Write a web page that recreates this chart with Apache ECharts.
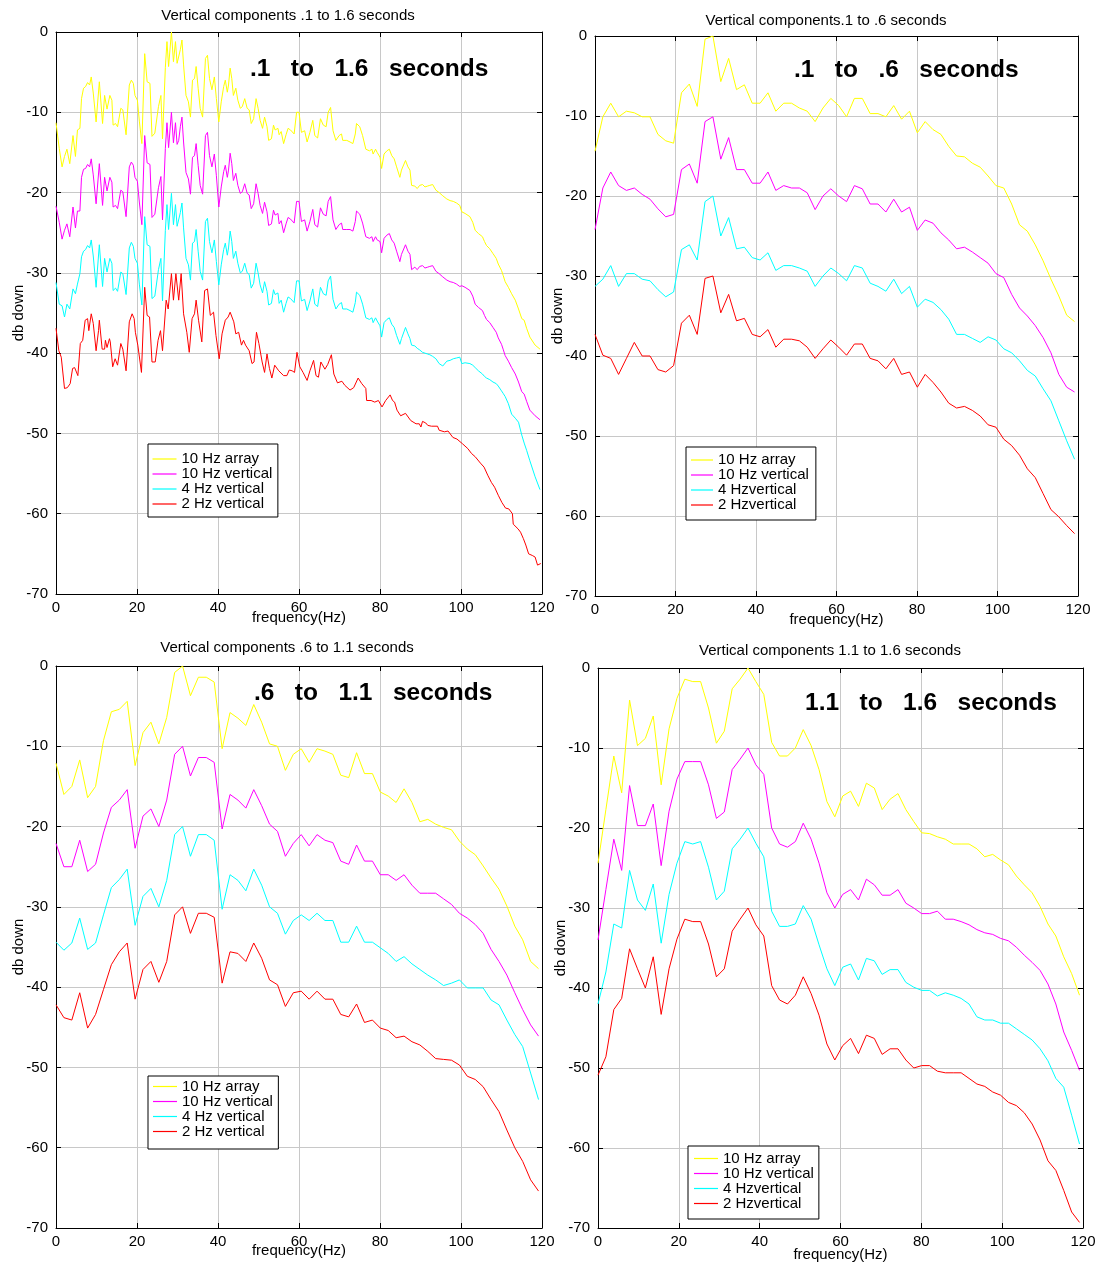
<!DOCTYPE html>
<html>
<head>
<meta charset="utf-8">
<script src="https://cdn.jsdelivr.net/npm/echarts@6/dist/echarts.min.js"></script>
<style>
  html, body { margin: 0; padding: 0; background: #fff; }
  #chart { width: 1106px; height: 1266px; }
</style>
</head>
<body>
<div id="chart"></div>
<script>
// ---------- Panel 1: .1 to 1.6 seconds (fine frequency resolution) ----------
const p1Hz = [
  0, 0.8, 1.5, 2.1, 2.7, 3.4, 4.2, 4.8, 5.3, 5.9,
  6.3, 6.8, 7.3, 7.8, 8.3, 8.7, 9.2, 9.9, 10.7, 11.5,
  12.0, 12.6, 13.3, 13.8, 14.1, 14.7, 15.2, 16.0, 16.5, 17.3,
  18.1, 18.6, 19.1, 19.5, 20.1, 20.6, 21.2, 21.9, 22.5, 23.2,
  23.7, 24.4, 25.3, 25.9, 26.3, 27.0, 27.4, 27.8, 28.5, 29.0,
  29.5, 29.9, 30.3, 30.7, 31.1, 31.5, 32.1, 32.7, 33.2, 33.7,
  34.2, 34.6, 35.1, 35.6, 36.2, 36.9, 37.4, 37.9, 38.5, 39.1,
  39.6, 40.2, 40.8, 41.4, 41.8, 42.3, 42.6, 43.0, 43.4, 43.8,
  44.4, 44.9, 45.5, 46.0, 46.6, 47.2, 47.7, 48.2, 48.8, 49.4,
  49.9, 50.4, 51.0, 51.5, 52.1, 52.5, 53.2, 53.7, 54.1, 54.8,
  55.1, 55.6, 56.2, 56.8, 57.3, 57.9, 58.8, 59.4, 60.0, 60.6,
  61.4, 62.0, 62.7, 63.4, 63.9, 64.6, 65.3, 66.0, 66.7, 67.2,
  67.8, 68.4, 69.1, 69.9, 70.5, 70.8, 71.8, 72.6, 73.3, 73.9,
  74.2, 75.0, 75.7, 76.1, 76.5, 77.4, 78.0, 78.3, 78.9, 79.3,
  80.0, 80.4, 81.0, 81.7, 82.3, 82.9, 83.5, 84.1, 84.9, 85.3,
  86.3, 86.9, 87.4, 87.8, 88.6, 89.2, 89.8, 90.5, 91.1, 91.7,
  92.3, 93.0, 93.8, 94.6, 95.5, 96.5, 97.3, 98.1, 98.9, 99.7,
  100.2, 101.0, 102.2, 102.9, 103.5, 104.3, 105.3, 105.8, 106.3, 107.1,
  107.9, 108.7, 109.2, 110.0, 110.4, 110.9, 111.7, 112.5, 113.4, 114.2,
  115.0, 115.6, 116.2, 117.0, 118.3, 119.5
];
const p1Yellow = [
  -11.3, -14.5, -16.8, -15.5, -14.6, -16.4, -12.9, -15.5, -12.2, -12.0,
  -8.3, -7.0, -6.8, -6.3, -6.6, -5.6, -7.6, -11.2, -6.2, -11.4,
  -7.9, -9.6, -7.9, -8.5, -11.6, -11.4, -11.8, -9.5, -9.7, -12.8,
  -6.6, -6.0, -6.4, -7.9, -8.5, -11.2, -13.9, -2.7, -6.2, -6.4,
  -13.0, -12.6, -9.3, -7.9, -13.3, -4.4, -1.2, -4.3, 0, -3.7,
  -1.2, -3.9, -3.9, -2.2, -1.0, -4.1, -7.9, -8.7, -10.6, -6.0,
  -5.8, -4.3, -7.0, -9.5, -10.6, -3.3, -2.9, -5.8, -7.2, -5.6,
  -8.3, -11.2, -8.7, -6.8, -6.0, -7.5, -6.6, -4.5, -5.8, -7.9,
  -7.0, -8.5, -9.5, -9.3, -8.3, -9.5, -9.7, -11.4, -10.8, -8.3,
  -9.5, -11.0, -12.0, -10.6, -11.8, -13.5, -13.3, -11.6, -12.2, -12.0,
  -12.8, -12.4, -13.9, -12.8, -12.0, -12.2, -12.7, -10.0, -10.0, -12.5,
  -12.3, -13.7, -12.5, -11.0, -12.9, -13.2, -10.8, -11.6, -11.8, -10.0,
  -9.4, -12.3, -13.5, -12.9, -12.7, -13.5, -13.5, -13.7, -13.9, -12.7,
  -11.4, -11.8, -12.9, -12.9, -14.6, -14.8, -14.6, -15.2, -14.6, -15.0,
  -15.6, -17.0, -15.2, -14.8, -14.6, -15.4, -15.8, -16.8, -18.1, -17.2,
  -16.0, -16.8, -17.2, -19.1, -19.2, -19.5, -19.1, -19.0, -19.3, -19.2,
  -19.1, -19.0, -19.7, -20.0, -20.4, -20.8, -21.0, -21.1, -21.3, -21.6,
  -22.4, -22.6, -23.0, -23.7, -24.7, -25.1, -25.5, -26.1, -26.6, -27.0,
  -27.6, -28.2, -28.9, -29.7, -30.3, -31.1, -31.8, -32.6, -33.4, -34.5,
  -35.7, -35.9, -36.9, -38.0, -39.0, -39.5
];
const p1Magenta = [
  -21.7, -23.7, -25.8, -24.7, -23.9, -25.5, -21.8, -24.4, -22.3, -22.3,
  -18.1, -17.1, -17.0, -16.5, -16.8, -15.8, -17.8, -21.4, -16.4, -21.6,
  -18.1, -19.8, -18.1, -18.7, -21.8, -21.6, -22.0, -19.7, -19.9, -23.0,
  -16.8, -16.2, -16.6, -18.1, -18.6, -21.3, -24.0, -12.9, -16.3, -16.5,
  -23.1, -22.7, -19.4, -18.0, -23.4, -14.5, -11.3, -14.4, -10.0, -13.8,
  -11.3, -14.0, -13.5, -11.8, -10.6, -13.7, -17.5, -18.3, -20.2, -15.6,
  -15.4, -13.9, -16.6, -19.1, -20.2, -12.9, -12.5, -15.4, -16.8, -15.2,
  -17.9, -21.8, -19.3, -17.4, -16.6, -18.1, -17.2, -15.1, -16.4, -18.5,
  -17.6, -19.1, -20.1, -19.9, -18.9, -20.1, -20.3, -22.0, -21.4, -18.9,
  -20.1, -21.6, -22.6, -21.2, -22.4, -24.1, -23.9, -22.2, -22.8, -22.6,
  -23.9, -23.5, -25.0, -23.9, -23.1, -23.3, -23.8, -21.1, -21.1, -23.6,
  -23.4, -24.8, -23.6, -22.1, -24.0, -24.3, -21.9, -22.7, -22.9, -21.1,
  -20.5, -23.4, -24.6, -24.0, -23.8, -24.6, -24.6, -24.6, -24.8, -23.6,
  -22.3, -22.7, -23.8, -23.8, -25.5, -25.7, -25.5, -26.1, -25.5, -25.9,
  -26.1, -27.5, -25.7, -25.3, -25.1, -25.9, -26.3, -27.3, -28.6, -27.7,
  -26.5, -27.3, -27.7, -29.6, -29.3, -29.6, -29.2, -29.1, -29.4, -29.3,
  -29.2, -29.1, -29.8, -30.1, -30.5, -30.9, -31.1, -31.2, -31.4, -31.7,
  -31.6, -31.8, -32.2, -32.9, -33.9, -34.3, -34.7, -35.3, -35.8, -36.2,
  -36.8, -37.4, -38.1, -38.9, -39.5, -40.3, -41.0, -41.8, -42.6, -43.6,
  -44.8, -45.1, -46.0, -47.1, -47.8, -48.3
];
const p1Cyan = [
  -31.2, -33.9, -34.1, -35.5, -33.9, -34.5, -32.0, -32.6, -31.4, -30.1,
  -28.0, -27.3, -27.1, -26.6, -26.9, -25.9, -27.9, -31.8, -26.5, -31.7,
  -28.2, -29.9, -28.2, -28.8, -32.2, -31.9, -32.3, -29.9, -30.1, -32.7,
  -26.9, -26.2, -26.7, -28.2, -28.8, -31.5, -34.0, -23.0, -26.5, -26.7,
  -33.2, -32.9, -29.6, -28.2, -33.5, -24.7, -21.5, -24.6, -20.1, -24.0,
  -21.5, -24.2, -24.2, -22.5, -21.3, -24.4, -28.2, -29.0, -30.9, -26.3,
  -26.1, -24.6, -27.3, -29.8, -30.9, -23.6, -23.2, -26.1, -27.5, -25.9,
  -28.6, -31.5, -29.0, -27.1, -26.3, -27.8, -26.9, -24.8, -26.1, -28.2,
  -27.3, -28.8, -30.0, -29.8, -28.8, -30.0, -30.2, -31.9, -31.3, -28.8,
  -30.0, -31.5, -32.5, -31.1, -32.3, -34.0, -33.8, -32.1, -32.7, -32.5,
  -33.8, -33.4, -34.9, -33.8, -33.0, -33.2, -33.7, -31.0, -31.0, -33.5,
  -33.3, -34.7, -33.5, -32.0, -33.9, -34.2, -31.8, -32.6, -32.8, -31.0,
  -30.4, -33.3, -34.5, -33.9, -33.7, -34.5, -34.5, -34.7, -34.9, -33.7,
  -32.4, -32.8, -33.9, -33.9, -35.6, -35.8, -35.6, -36.2, -35.6, -36.0,
  -36.6, -38.0, -36.2, -35.8, -35.6, -36.4, -36.8, -37.8, -38.9, -38.2,
  -36.8, -37.6, -38.2, -39.0, -39.1, -39.4, -39.6, -39.9, -40.0, -40.1,
  -40.2, -40.4, -40.7, -41.3, -41.6, -41.0, -40.9, -40.7, -40.6, -40.5,
  -41.3, -41.2, -41.3, -41.5, -41.8, -42.2, -42.6, -42.9, -43.1, -43.3,
  -43.6, -43.8, -44.1, -44.7, -45.0, -45.4, -46.3, -47.6, -48.1, -48.6,
  -50.2, -51.2, -52.1, -53.4, -55.4, -57.0
];
const p1RedHz = [
  0, 0.7, 1.3, 2.1, 2.8, 3.5, 4.1, 4.6, 5.4, 6.0,
  6.6, 7.2, 7.8, 8.1, 8.7, 9.2, 9.9, 10.5, 10.7, 11.4,
  12.0, 12.2, 12.6, 13.2, 13.4, 14.0, 14.6, 15.2, 16.0, 16.5,
  17.3, 18.1, 18.8, 19.3, 19.6, 20.2, 21.1, 21.9, 22.5, 23.1,
  23.7, 24.5, 25.2, 25.8, 26.3, 27.2, 27.7, 28.5, 29.0, 29.6,
  30.3, 30.9, 31.5, 32.3, 32.9, 33.6, 34.2, 34.6, 35.2, 36.0,
  36.7, 37.4, 38.1, 38.9, 39.5, 40.3, 41.0, 41.8, 42.5, 43.0,
  43.9, 44.4, 45.1, 45.8, 46.3, 46.8, 47.2, 47.7, 48.4, 48.9,
  49.5, 50.1, 50.9, 51.5, 52.1, 52.7, 53.3, 54.0, 55.0, 56.2,
  57.0, 57.6, 58.3, 58.9, 59.5, 60.2, 61.0, 62.0, 62.7, 63.6,
  64.2, 64.8, 65.4, 66.4, 67.1, 68.0, 68.6, 69.5, 70.6, 71.3,
  72.6, 73.5, 74.6, 75.5, 76.5, 76.7, 77.8, 78.7, 79.6, 80.5,
  81.4, 82.5, 83.1, 83.6, 84.2, 85.1, 86.3, 87.6, 88.9, 89.7,
  90.1, 90.5, 91.3, 91.8, 92.7, 94.2, 94.6, 95.9, 96.8, 98.0,
  99.0, 100.4, 101.7, 102.6, 103.5, 104.8, 105.7, 106.6, 107.5, 108.3,
  109.2, 110.1, 111.0, 111.8, 112.7, 112.9, 114.1, 114.7, 115.4, 116.0,
  116.7, 117.6, 118.3, 118.9, 119.7
];
const p1Red = [
  -36.9, -39.7, -40.5, -44.4, -44.3, -43.8, -41.9, -41.8, -42.8, -38.8,
  -38.4, -35.9, -35.7, -37.2, -35.1, -36.3, -39.7, -37.2, -35.9, -39.5,
  -39.5, -38.4, -39.3, -38.2, -38.6, -41.7, -40.7, -41.5, -38.8, -39.5,
  -42.2, -36.1, -35.1, -35.7, -37.4, -39.0, -42.4, -31.8, -35.3, -35.5,
  -41.1, -41.1, -38.4, -37.2, -39.7, -33.4, -34.5, -30.1, -33.4, -30.1,
  -33.4, -30.1, -35.1, -37.4, -39.9, -35.7, -35.1, -33.4, -35.9, -38.6,
  -32.2, -32.0, -35.3, -34.9, -37.8, -40.7, -37.6, -35.9, -35.5, -34.9,
  -36.1, -37.6, -37.4, -39.0, -38.4, -39.0, -38.8, -39.7, -41.3, -41.1,
  -37.4, -38.8, -41.1, -42.4, -40.1, -41.9, -43.1, -41.5, -42.2, -42.8,
  -42.8, -42.1, -42.2, -42.4, -39.9, -41.7, -42.4, -43.4, -42.2, -40.9,
  -42.8, -43.0, -41.1, -42.0, -41.4, -40.2, -42.6, -43.7, -43.5, -44.0,
  -44.6, -44.3, -43.1, -43.8, -44.4, -45.9, -45.9, -46.1, -45.9, -46.7,
  -45.9, -45.2, -45.9, -46.1, -47.1, -47.8, -47.5, -48.4, -48.8, -48.8,
  -49.2, -48.5, -48.7, -49.0, -49.1, -49.1, -49.6, -49.8, -49.7, -50.5,
  -50.7, -51.3, -51.9, -52.5, -52.9, -53.7, -54.2, -55.2, -56.1, -56.7,
  -57.7, -58.6, -59.3, -59.4, -60.0, -61.3, -61.9, -62.3, -63.1, -63.9,
  -65.0, -65.2, -65.4, -66.4, -66.2
];

// ---------- Panels 2-4: half-second windows share one frequency grid ----------
const hzCoarse = [
  0, 1.95, 3.91, 5.86, 7.81, 9.77, 11.72, 13.67, 15.63, 17.58,
  19.53, 21.48, 23.44, 25.39, 27.34, 29.30, 31.25, 33.20, 35.16, 37.11,
  39.06, 41.02, 42.97, 44.92, 46.88, 48.83, 50.78, 52.73, 54.69, 56.64,
  58.59, 60.55, 62.50, 64.45, 66.41, 68.36, 70.31, 72.27, 74.22, 76.17,
  78.13, 80.08, 82.03, 83.98, 85.94, 87.89, 89.84, 91.80, 93.75, 95.70,
  97.66, 99.61, 101.56, 103.52, 105.47, 107.42, 109.38, 111.33, 113.28, 115.23,
  117.19, 119.14
];

// .1 to .6 seconds
const p2Yellow = [
  -14.4, -10.1, -8.4, -10.1, -9.4, -9.6, -10.1, -10.1, -12.3, -13.1,
  -13.4, -7.1, -6.0, -8.8, -0.4, 0, -5.7, -2.8, -6.7, -6.1,
  -8.4, -8.4, -7.1, -9.4, -8.4, -8.4, -9.0, -9.4, -10.7, -9.0,
  -7.8, -8.7, -10.1, -7.8, -7.8, -9.7, -9.7, -10.1, -8.7, -10.4,
  -9.4, -12.1, -10.7, -11.7, -12.3, -13.8, -15.0, -15.1, -15.9, -16.4,
  -17.5, -18.7, -19.0, -21.0, -23.6, -24.4, -26.1, -28.1, -30.4, -32.5,
  -34.9, -35.7
];
const p2Magenta = [
  -24.2, -19.0, -17.0, -18.7, -19.3, -19.0, -19.8, -20.4, -21.6, -22.6,
  -22.3, -16.7, -16.0, -18.4, -10.7, -10.1, -15.4, -12.7, -16.7, -16.7,
  -18.4, -18.4, -17.0, -19.3, -18.7, -19.0, -19.0, -19.6, -21.7, -20.0,
  -19.1, -20.0, -20.7, -18.7, -19.1, -21.0, -21.0, -22.0, -20.4, -22.0,
  -21.4, -24.3, -23.0, -23.4, -24.6, -25.5, -26.6, -26.4, -27.0, -27.7,
  -28.4, -29.7, -30.2, -32.3, -34.0, -35.0, -36.2, -37.7, -39.6, -42.3,
  -43.9, -44.5
];
const p2Cyan = [
  -31.3, -30.4, -28.7, -31.3, -29.7, -29.7, -30.4, -30.6, -31.7, -32.6,
  -32.0, -26.7, -26.1, -28.0, -20.7, -20.0, -25.0, -22.7, -26.6, -26.4,
  -27.7, -28.0, -27.1, -29.3, -28.7, -28.7, -29.0, -29.4, -31.3, -30.0,
  -29.0, -29.7, -30.6, -28.7, -29.0, -30.9, -31.3, -31.9, -30.4, -32.2,
  -31.3, -33.9, -32.9, -33.3, -34.2, -35.4, -37.3, -37.3, -37.8, -38.3,
  -37.6, -38.0, -39.1, -39.6, -40.6, -41.8, -42.5, -44.1, -45.6, -48.1,
  -50.6, -52.9
];
const p2Red = [
  -37.3, -39.9, -40.3, -42.3, -40.3, -38.3, -40.0, -40.0, -41.7, -42.0,
  -41.2, -35.9, -34.9, -37.3, -30.3, -30.0, -34.6, -32.3, -35.6, -35.3,
  -37.3, -37.6, -36.7, -38.9, -37.9, -37.9, -38.1, -38.9, -40.3, -39.1,
  -38.0, -38.9, -39.9, -38.5, -38.5, -40.3, -40.6, -41.6, -40.3, -42.3,
  -42.0, -43.9, -42.3, -43.3, -44.5, -45.9, -46.5, -46.3, -46.8, -47.5,
  -48.6, -48.9, -50.4, -51.2, -52.4, -54.1, -55.2, -57.2, -59.2, -60.1,
  -61.2, -62.2
];

// .6 to 1.1 seconds
const p3Yellow = [
  -12.1, -16.0, -15.0, -11.7, -16.4, -15.0, -9.3, -5.7, -5.4, -4.4,
  -12.4, -8.3, -7.0, -9.7, -6.4, -0.8, 0, -3.7, -1.4, -1.4,
  -2.0, -10.3, -5.8, -6.5, -7.4, -4.8, -7.0, -9.7, -10.0, -13.0,
  -11.0, -10.3, -12.0, -10.3, -10.6, -11.0, -13.6, -13.9, -10.8, -13.4,
  -13.4, -15.7, -16.2, -17.0, -15.3, -17.0, -19.4, -19.1, -19.7, -20.1,
  -20.4, -21.8, -22.8, -23.5, -24.9, -26.4, -27.8, -29.9, -32.4, -34.1,
  -36.8, -37.7
];
const p3Magenta = [
  -22.1, -25.0, -25.0, -21.7, -25.6, -24.7, -20.8, -17.6, -16.7, -15.4,
  -22.7, -18.7, -17.8, -20.0, -16.7, -11.0, -10.0, -13.7, -11.4, -11.4,
  -12.0, -20.3, -16.0, -16.7, -17.7, -15.4, -17.4, -19.7, -20.6, -23.7,
  -22.1, -21.0, -22.4, -21.0, -21.7, -22.0, -24.3, -24.7, -22.3, -24.3,
  -24.3, -26.0, -26.0, -26.7, -26.0, -27.3, -28.3, -28.3, -28.3, -29.0,
  -29.7, -30.8, -31.4, -32.2, -33.3, -35.3, -36.8, -38.5, -40.7, -42.8,
  -44.7, -46.1
];
const p3Cyan = [
  -34.4, -35.4, -34.5, -31.4, -35.3, -34.5, -31.0, -27.6, -26.6, -25.3,
  -32.3, -28.7, -27.7, -30.0, -26.7, -21.0, -20.0, -23.7, -21.0, -21.0,
  -21.7, -30.3, -26.0, -26.7, -28.0, -25.3, -27.3, -30.0, -30.8, -33.4,
  -31.7, -31.0, -31.7, -30.8, -31.7, -31.7, -34.4, -34.4, -32.4, -34.4,
  -34.4, -35.1, -35.8, -36.8, -36.2, -37.1, -37.8, -38.5, -39.1, -39.8,
  -39.5, -39.1, -40.1, -40.1, -40.1, -41.6, -42.2, -44.1, -45.9, -47.4,
  -50.7, -54.0
];
const p3Red = [
  -42.2, -43.8, -44.1, -40.7, -45.1, -43.4, -40.3, -37.2, -35.6, -34.5,
  -41.5, -37.8, -36.8, -39.4, -36.8, -31.0, -30.0, -33.3, -30.8, -30.8,
  -31.3, -39.5, -35.6, -35.8, -36.8, -34.5, -36.4, -39.1, -39.7, -42.4,
  -40.7, -40.5, -41.5, -40.5, -41.5, -41.5, -43.4, -43.7, -42.1, -44.4,
  -44.1, -45.1, -45.4, -46.3, -46.1, -46.8, -47.2, -48.0, -48.9, -49.0,
  -49.1, -49.7, -51.1, -51.5, -52.4, -54.0, -55.5, -57.8, -60.0, -61.7,
  -64.0, -65.4
];

// 1.1 to 1.6 seconds
const p4Yellow = [
  -24.4, -17.7, -11.0, -15.6, -4.0, -9.7, -8.8, -6.0, -14.6, -7.6,
  -3.8, -1.4, -1.7, -1.7, -5.0, -9.4, -7.9, -2.6, -1.4, 0,
  -1.7, -3.3, -9.3, -11.0, -11.0, -10.0, -7.7, -9.7, -12.7, -16.7,
  -18.6, -16.0, -15.4, -17.3, -14.4, -15.0, -17.7, -16.4, -15.7, -17.7,
  -19.2, -20.6, -20.7, -21.1, -21.4, -22.0, -22.0, -22.0, -22.6, -23.6,
  -23.3, -24.0, -24.6, -26.0, -27.1, -28.1, -29.8, -32.0, -33.5, -36.1,
  -38.2, -40.9
];
const p4Magenta = [
  -34.0, -27.7, -21.4, -25.3, -14.7, -19.7, -19.7, -17.0, -24.7, -17.9,
  -13.9, -11.7, -11.7, -11.7, -14.6, -18.8, -18.0, -12.7, -11.4, -10.0,
  -12.1, -13.3, -20.0, -22.0, -22.4, -21.7, -19.4, -21.4, -24.4, -28.1,
  -30.0, -28.3, -27.7, -29.0, -26.4, -27.1, -28.4, -28.4, -27.7, -29.4,
  -30.0, -30.7, -30.7, -30.4, -31.4, -31.4, -31.7, -32.1, -32.7, -33.1,
  -33.3, -33.8, -34.1, -34.9, -35.9, -36.8, -37.8, -39.5, -42.0, -45.5,
  -47.8, -50.3
];
const p4Cyan = [
  -42.0, -38.0, -32.0, -32.5, -25.3, -29.0, -30.3, -27.0, -34.4, -28.3,
  -24.4, -21.7, -22.0, -21.7, -24.9, -29.0, -27.9, -22.6, -21.4, -20.0,
  -21.9, -23.6, -30.4, -32.3, -32.3, -32.0, -29.7, -31.4, -34.6, -37.6,
  -39.7, -37.4, -37.0, -39.0, -36.3, -36.6, -38.3, -37.7, -37.7, -39.3,
  -39.9, -40.3, -40.3, -41.0, -40.6, -40.9, -41.3, -42.0, -43.6, -44.0,
  -44.0, -44.4, -44.4, -45.1, -45.8, -46.5, -47.6, -49.1, -51.3, -52.4,
  -55.9, -59.5
];
const p4Red = [
  -50.9, -48.6, -42.7, -41.3, -35.1, -37.6, -40.0, -36.1, -43.3, -37.6,
  -33.9, -31.4, -31.7, -31.7, -34.5, -38.6, -37.6, -32.9, -31.4, -30.0,
  -32.1, -33.5, -39.7, -41.5, -42.0, -40.9, -38.6, -40.7, -43.4, -47.0,
  -49.0, -47.2, -46.3, -48.2, -45.9, -46.3, -48.3, -47.6, -47.6, -49.0,
  -50.0, -49.7, -49.7, -50.4, -50.6, -50.6, -50.6, -51.3, -52.0, -52.3,
  -53.0, -53.4, -54.3, -54.7, -55.6, -57.0, -59.0, -61.6, -62.8, -65.3,
  -68.0, -69.3
];

// ---------- Labels ----------
const legendNamesA = ['10 Hz array', '10 Hz vertical', '4 Hz vertical', '2 Hz vertical'];
const legendNamesB = ['10 Hz array', '10 Hz vertical', '4 Hzvertical', '2 Hzvertical'];
const panelTitles = [
  'Vertical components .1 to 1.6 seconds',
  'Vertical components.1 to .6 seconds',
  'Vertical components .6 to 1.1 seconds',
  'Vertical components 1.1 to 1.6 seconds'
];
const windowLabels = [
  '.1   to   1.6   seconds',
  '.1   to   .6   seconds',
  '.6   to   1.1   seconds',
  '1.1   to   1.6   seconds'
];
const lineColors = ['#ffff00', '#ff00ff', '#00ffff', '#ff0000'];

// ---------- Layout ----------
const FONT = '"Liberation Sans", Arial, Helvetica, sans-serif';
const panels = [
  {
    grid: { left: 56, top: 32, width: 486, height: 562 },
    titlePos: [288, 16], labelPos: [250, 69], xNameGap: 16, yNameGap: 30,
    legend: { left: 148, top: 444, padding: [7.5, 5.5, 5.5, 4.5], itemWidth: 24 },
    names: legendNamesA,
    lines: [[p1Hz, p1Yellow], [p1Hz, p1Magenta], [p1Hz, p1Cyan], [p1RedHz, p1Red]]
  },
  {
    grid: { left: 595, top: 36, width: 483, height: 560 },
    titlePos: [826, 21], labelPos: [794, 70.5], xNameGap: 16, yNameGap: 30,
    legend: { left: 686, top: 447, padding: [5.5, 7, 7.5, 5], itemWidth: 22 },
    names: legendNamesB,
    lines: [[hzCoarse, p2Yellow], [hzCoarse, p2Magenta], [hzCoarse, p2Cyan], [hzCoarse, p2Red]]
  },
  {
    grid: { left: 56, top: 666, width: 486, height: 562 },
    titlePos: [287, 648], labelPos: [254, 693.5], xNameGap: 15, yNameGap: 30,
    legend: { left: 148, top: 1076, padding: [3, 5.5, 10, 5], itemWidth: 24 },
    names: legendNamesA,
    lines: [[hzCoarse, p3Yellow], [hzCoarse, p3Magenta], [hzCoarse, p3Cyan], [hzCoarse, p3Red]]
  },
  {
    grid: { left: 598, top: 668, width: 485, height: 560 },
    titlePos: [830, 651], labelPos: [805, 703.5], xNameGap: 19, yNameGap: 30,
    legend: { left: 688, top: 1146, padding: [5, 5, 8, 6], itemWidth: 24 },
    names: legendNamesB,
    lines: [[hzCoarse, p4Yellow], [hzCoarse, p4Magenta], [hzCoarse, p4Cyan], [hzCoarse, p4Red]]
  }
];

const grids = [], xAxes = [], yAxes = [], series = [], legends = [], texts = [];

panels.forEach((p, i) => {
  grids.push(Object.assign({ containLabel: false }, p.grid));

  // bottom axis with labels, top mirror axis for the frame and inner ticks
  xAxes.push({
    gridIndex: i, type: 'value', min: 0, max: 120, interval: 20, position: 'bottom',
    axisLine: { show: true, onZero: false, lineStyle: { color: '#000', width: 1 } },
    axisTick: { show: true, inside: true, length: 5, lineStyle: { color: '#000' } },
    axisLabel: { margin: 6, fontSize: 15, color: '#000', fontFamily: FONT },
    splitLine: { show: true, lineStyle: { color: '#c8c8c8', width: 1 } },
    name: 'frequency(Hz)', nameLocation: 'middle', nameGap: p.xNameGap,
    nameMoveOverlap: false,
    nameTextStyle: { fontSize: 15, color: '#000', fontFamily: FONT }
  });
  xAxes.push({
    gridIndex: i, type: 'value', min: 0, max: 120, interval: 20, position: 'top',
    axisLine: { show: true, onZero: false, lineStyle: { color: '#000', width: 1 } },
    axisTick: { show: true, inside: true, length: 5, lineStyle: { color: '#000' } },
    axisLabel: { show: false }, splitLine: { show: false }
  });
  yAxes.push({
    gridIndex: i, type: 'value', min: -70, max: 0, interval: 10, position: 'left',
    axisLine: { show: true, onZero: false, lineStyle: { color: '#000', width: 1 } },
    axisTick: { show: true, inside: true, length: 5, lineStyle: { color: '#000' } },
    axisLabel: { margin: 8, fontSize: 15, color: '#000', fontFamily: FONT },
    splitLine: { show: true, lineStyle: { color: '#c8c8c8', width: 1 } },
    name: 'db down', nameLocation: 'middle', nameGap: p.yNameGap,
    nameMoveOverlap: false,
    nameTextStyle: { fontSize: 15, color: '#000', fontFamily: FONT }
  });
  yAxes.push({
    gridIndex: i, type: 'value', min: -70, max: 0, interval: 10, position: 'right',
    axisLine: { show: true, onZero: false, lineStyle: { color: '#000', width: 1 } },
    axisTick: { show: true, inside: true, length: 5, lineStyle: { color: '#000' } },
    axisLabel: { show: false }, splitLine: { show: false }
  });

  p.lines.forEach((pair, j) => {
    const hz = pair[0], db = pair[1];
    series.push({
      type: 'line', name: p.names[j],
      xAxisIndex: 2 * i, yAxisIndex: 2 * i,
      data: hz.map((f, k) => [f, db[k]]),
      symbol: 'none', showSymbol: false, smooth: false, clip: true,
      lineStyle: { color: lineColors[j], width: 1 },
      itemStyle: { color: lineColors[j] },
      emphasis: { disabled: true }, silent: true
    });
  });

  // plain line swatches in a boxed legend
  legends.push({
    left: p.legend.left, top: p.legend.top, orient: 'vertical',
    data: p.names, selectedMode: false,
    icon: 'rect',
    itemWidth: p.legend.itemWidth, itemHeight: 1.2, itemGap: 0,
    padding: p.legend.padding,
    borderColor: '#000', borderWidth: 1, backgroundColor: '#fff',
    textStyle: { fontSize: 15, color: '#000', fontFamily: FONT, lineHeight: 13.5 }
  });

  texts.push({
    type: 'text', x: p.titlePos[0], y: p.titlePos[1], silent: true,
    style: {
      text: panelTitles[i], font: '15px ' + FONT, fill: '#000',
      align: 'center', verticalAlign: 'middle',
      textAlign: 'center', textVerticalAlign: 'middle'
    }
  });
  texts.push({
    type: 'text', x: p.labelPos[0], y: p.labelPos[1], silent: true, z: 10,
    style: {
      text: windowLabels[i], font: 'bold 24.5px ' + FONT, fill: '#000',
      align: 'left', verticalAlign: 'middle',
      textAlign: 'left', textVerticalAlign: 'middle'
    }
  });
});

const chart = echarts.init(document.getElementById('chart'), null, { renderer: 'canvas' });
chart.setOption({
  backgroundColor: '#fff',
  animation: false,
  textStyle: { fontFamily: FONT },
  grid: grids,
  xAxis: xAxes,
  yAxis: yAxes,
  legend: legends,
  series: series,
  graphic: { elements: texts }
});
</script>
</body>
</html>
